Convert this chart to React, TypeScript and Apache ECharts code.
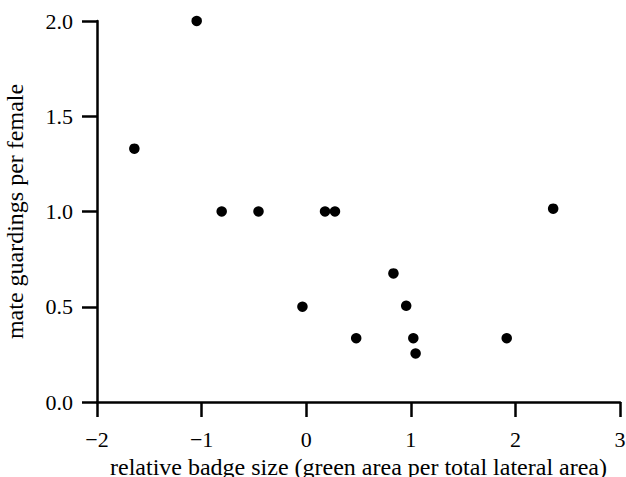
import React, { useEffect, useRef } from "react";
import * as echarts from "echarts";

const badgeSize = [-1.047, -1.643, -0.808, -0.456, -0.036, 0.18, 0.275, 0.478, 0.834, 0.956, 1.024, 1.046, 1.917, 2.361];
const guardings = [2.0, 1.33, 1.0, 1.0, 0.5, 1.0, 1.0, 0.335, 0.675, 0.505, 0.335, 0.255, 0.335, 1.015];
const xTicks = [-2, -1, 0, 1, 2, 3];
const yTicks = [0, 0.5, 1.0, 1.5, 2.0];
const xName = "relative badge size (green area per total lateral area)";
const yName = "mate guardings per female";

const FONT = "'Liberation Serif', 'Times New Roman', serif";

export default function App() {
  const ref = useRef<HTMLDivElement>(null);
  useEffect(() => {
    if (!ref.current) return;
    const chart = echarts.init(ref.current, null, { renderer: "svg" });
    const axisCommon = {
      axisLine: { show: true, onZero: false, lineStyle: { color: "#000", width: 2.5 } },
      axisTick: { show: true, length: 15, lineStyle: { color: "#000", width: 2.5 } },
      splitLine: { show: false },
      nameLocation: "middle",
      nameTextStyle: { color: "#000", fontFamily: FONT, fontSize: 24 },
    };
    chart.setOption({
      animation: false,
      backgroundColor: "#fff",
      grid: {
        left: 97,
        right: 6,
        top: 21,
        bottom: 75,
        containLabel: false,
        outerBoundsMode: "none",
      },
      xAxis: {
        ...axisCommon,
        type: "value",
        min: xTicks[0],
        max: xTicks[xTicks.length - 1],
        interval: 1,
        name: xName,
        nameGap: 53,
        axisLabel: {
          color: "#000",
          fontFamily: FONT,
          fontSize: 22,
          margin: 26,
          formatter: (v: number) => (v < 0 ? "\u2212" + Math.abs(v) : String(v)),
        },
      },
      yAxis: {
        ...axisCommon,
        type: "value",
        min: yTicks[0],
        max: yTicks[yTicks.length - 1],
        interval: 0.5,
        name: yName,
        nameGap: 70,
        axisLabel: {
          color: "#000",
          fontFamily: FONT,
          fontSize: 22,
          margin: 24,
          formatter: (v: number) => v.toFixed(1),
        },
      },
      series: [
        {
          type: "scatter",
          data: badgeSize.map((x, i) => [x, guardings[i]]),
          symbol: "circle",
          symbolSize: 10.5,
          itemStyle: { color: "#000", opacity: 1 },
          clip: false,
        },
      ],
    });
    return () => chart.dispose();
  }, []);
  return (
    <div
      ref={ref}
      style={{ position: "absolute", left: 0, top: 0, width: 626, height: 477 }}
    />
  );
}
